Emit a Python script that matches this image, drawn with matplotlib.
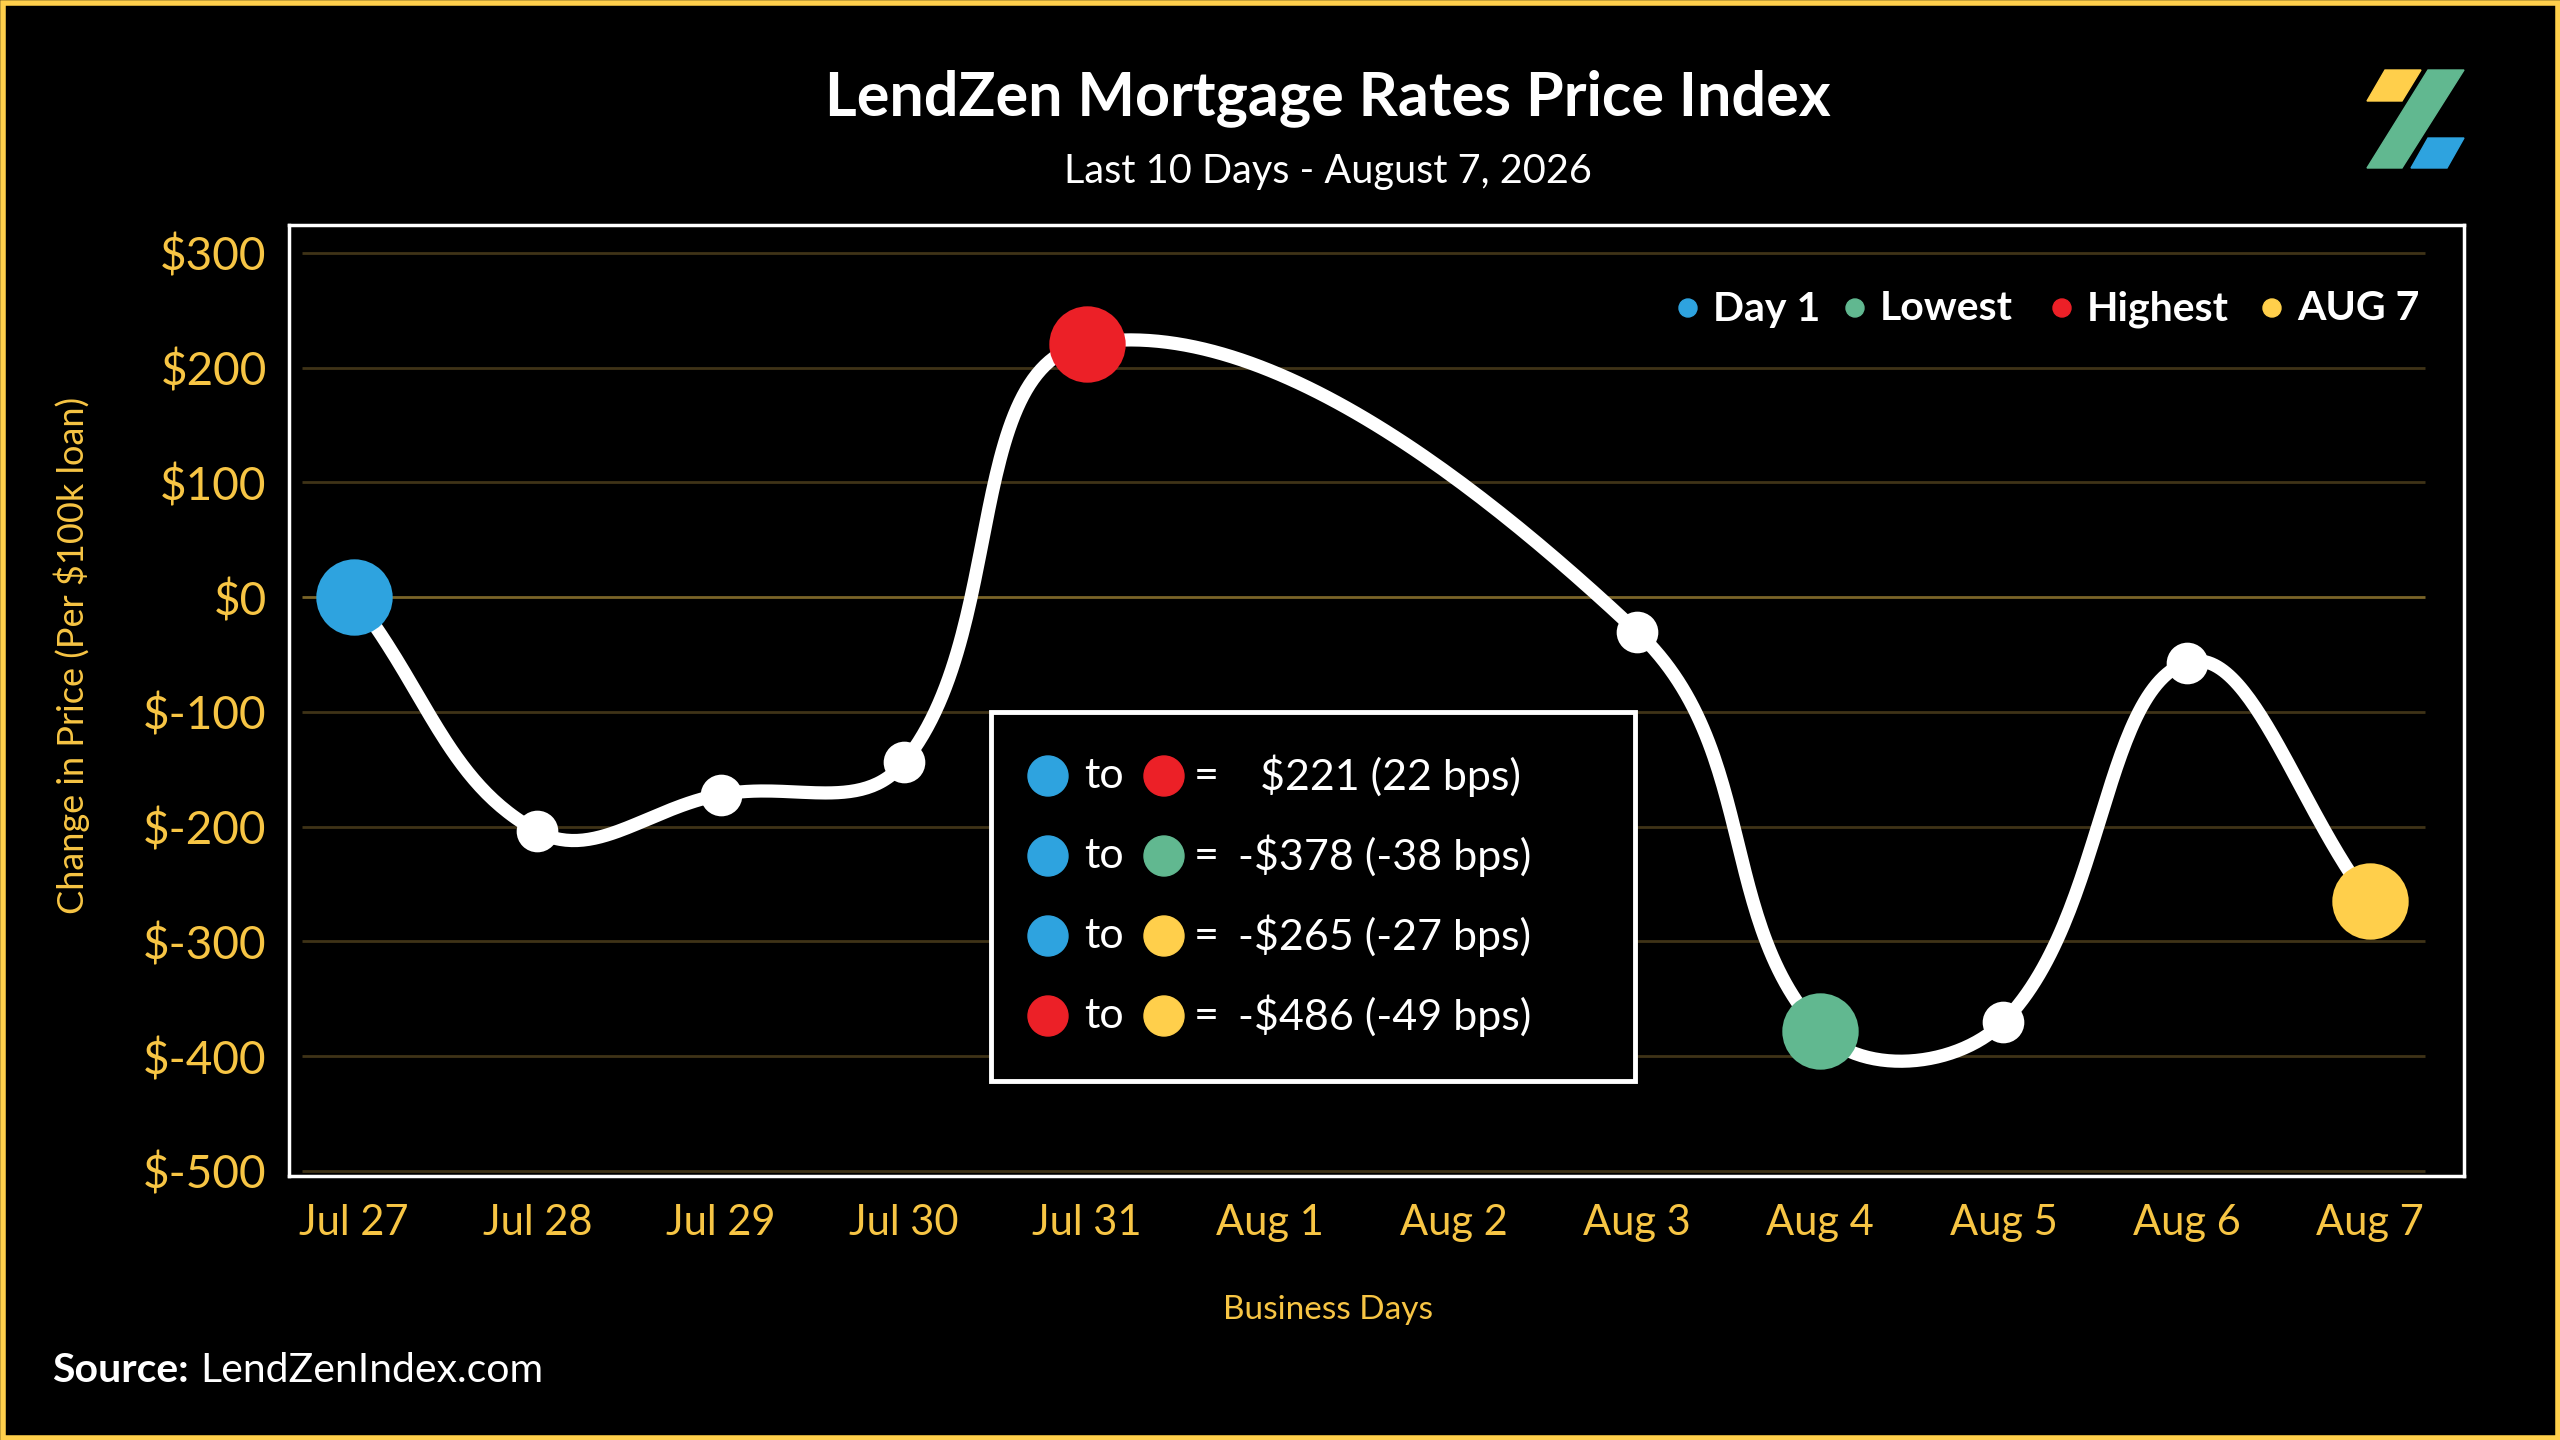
import numpy as np
import matplotlib.pyplot as plt
from matplotlib.patches import Circle, Polygon, Rectangle

# dados
dias = ['Jul 27', 'Jul 28', 'Jul 29', 'Jul 30', 'Jul 31', 'Aug 1', 'Aug 2',
        'Aug 3', 'Aug 4', 'Aug 5', 'Aug 6', 'Aug 7']
pos_dias = [0, 1, 2, 3, 4, 7, 8, 9, 10, 11]          # dias com valor (sem fim de semana)
valores = [0, -204, -172, -144, 221, -30, -378, -370, -57, -265]
y_ticks = [300, 200, 100, 0, -100, -200, -300, -400, -500]
y_labels = ['$300', '$200', '$100', '$0', '$-100', '$-200', '$-300', '$-400', '$-500']

destaques = {0: '#2ea3df', 4: '#ec2027', 8: '#61b890', 11: '#ffcf4b'}
legenda = [('Day 1', '#2ea3df'), ('Lowest', '#61b890'), ('Highest', '#ec2027'), ('AUG 7', '#ffcf4b')]
resumo = [('#2ea3df', '#ec2027', '  $221 (22 bps)'),
          ('#2ea3df', '#61b890', '-$378 (-38 bps)'),
          ('#2ea3df', '#ffcf4b', '-$265 (-27 bps)'),
          ('#ec2027', '#ffcf4b', '-$486 (-49 bps)')]

OURO = '#f7c544'
FONTE = 'Lato'

W, H = 2560, 1440
XL = (-0.355, 11.513)
YL = (-504.4, 324.4)
PX_X = 183.3      # px por dia
PX_Y = 1.1475     # px por unidade


## curva estilo chart.js (tensao 0.4) em espaco de pixel
def spline(xs, ys, t=0.4, n=60):
    px = np.array(xs, float) * PX_X
    py = np.array(ys, float) * PX_Y
    m = len(px)
    cp_ant = np.zeros((m, 2))
    cp_pos = np.zeros((m, 2))
    for i in range(m):
        a = i - 1 if i > 0 else i
        b = i + 1 if i < m - 1 else i
        d01 = np.hypot(px[i] - px[a], py[i] - py[a])
        d12 = np.hypot(px[b] - px[i], py[b] - py[i])
        s = d01 + d12
        s01 = d01 / s if s else 0
        s12 = d12 / s if s else 0
        dx, dy = px[b] - px[a], py[b] - py[a]
        cp_ant[i] = (px[i] - t * s01 * dx, py[i] - t * s01 * dy)
        cp_pos[i] = (px[i] + t * s12 * dx, py[i] + t * s12 * dy)
    ox, oy = [], []
    u = np.linspace(0, 1, n)
    for i in range(m - 1):
        p0 = np.array([px[i], py[i]])
        p3 = np.array([px[i + 1], py[i + 1]])
        p1, p2 = cp_pos[i], cp_ant[i + 1]
        c = ((1 - u) ** 3)[:, None] * p0 + (3 * (1 - u) ** 2 * u)[:, None] * p1 \
            + (3 * (1 - u) * u ** 2)[:, None] * p2 + (u ** 3)[:, None] * p3
        ox.extend(c[:, 0])
        oy.extend(c[:, 1])
    return np.array(ox) / PX_X, np.array(oy) / PX_Y


fig = plt.figure(figsize=(25.6, 14.4), dpi=100, facecolor='black')
ax = fig.add_axes([289 / W, 1 - 1176 / H, (2464 - 289) / W, (1176 - 225) / H])
ax.set_facecolor('black')
ax.set_xlim(*XL)
ax.set_ylim(*YL)

for v in y_ticks:
    ax.hlines(v, -0.285, 11.30, color='#7a6428' if v == 0 else '#3f3317', lw=2, zorder=1)

cx, cy = spline(pos_dias, valores)
ax.plot(cx, cy, color='white', lw=9.5, solid_capstyle='round', zorder=3)

for i, (x, v) in enumerate(zip(pos_dias, valores)):
    if x in destaques:
        ax.plot(x, v, 'o', ms=55, color=destaques[x], mec='none', zorder=5)
    else:
        ax.plot(x, v, 'o', ms=30, color='white', mec='none', zorder=4)

ax.set_xticks(range(len(dias)))
ax.set_xticklabels(dias, fontsize=30, color=OURO, family=FONTE)
ax.set_yticks(y_ticks)
ax.set_yticklabels(y_labels, fontsize=33, color=OURO, family=FONTE)
ax.tick_params(axis='x', length=0, pad=20)
ax.tick_params(axis='y', length=0, pad=16)
for s in ax.spines.values():
    s.set_color('white')
    s.set_linewidth(2.5)

# camada de anotacoes em coordenadas de pixel
ov = fig.add_axes([0, 0, 1, 1], zorder=10)
ov.set_xlim(0, W)
ov.set_ylim(H, 0)
ov.axis('off')
ov.patch.set_alpha(0)

ov.add_patch(Rectangle((2.5, 2.5), W - 5, H - 5, fill=False, ec='#ffcf4b', lw=4))

ov.text(1328, 98, 'LendZen Mortgage Rates Price Index', ha='center', va='center',
        fontsize=44, fontweight='bold', color='white', family=FONTE)
ov.text(1328, 172, 'Last 10 Days - August 7, 2026', ha='center', va='center',
        fontsize=28.5, color='white', family=FONTE)

# logo
ov.add_patch(Polygon([(2385, 70), (2421, 70), (2402, 101), (2367, 101)], color='#ffcf4b'))
ov.add_patch(Polygon([(2428, 70), (2464, 70), (2402, 168), (2367, 168)], color='#61b890'))
ov.add_patch(Polygon([(2428, 138), (2464, 138), (2447, 168), (2411, 168)], color='#2ea3df'))

ov.text(72, 655, 'Change in Price (Per $100k loan)', rotation=90, ha='center', va='center',
        fontsize=26, color=OURO, family=FONTE)
ov.text(1328, 1310, 'Business Days', ha='center', va='center',
        fontsize=24, color=OURO, family=FONTE)

ov.text(52, 1370, 'Source:', ha='left', va='center', fontsize=29.5,
        fontweight='bold', color='white', family=FONTE)
ov.text(200, 1370, 'LendZenIndex.com', ha='left', va='center', fontsize=29.5,
        color='white', family=FONTE)

# legenda superior
leg_x = [1688, 1855, 2062, 2272]
for (nome, cor), x in zip(legenda, leg_x):
    ov.add_patch(Circle((x, 308), 9, color=cor))
    ov.text(x + 25, 309, nome, ha='left', va='center', fontsize=29.5,
            fontweight='bold', color='white', family=FONTE)

# caixa resumo
ov.add_patch(Rectangle((991, 712), 644, 369, fc='black', ec='white', lw=3.5, zorder=1))
for k, (c1, c2, txt) in enumerate(resumo):
    y = 776 + 80 * k
    ov.add_patch(Circle((1048, y), 20, color=c1, zorder=2))
    ov.text(1104, y, 'to', ha='center', va='center', fontsize=31, color='white', family=FONTE)
    ov.add_patch(Circle((1164, y), 20, color=c2, zorder=2))
    ov.text(1206, y, '=', ha='center', va='center', fontsize=31, color='white', family=FONTE)
    ov.text(1238, y, txt, ha='left', va='center', fontsize=31, color='white', family=FONTE)

fig.savefig('out.png', dpi=100, facecolor='black')
